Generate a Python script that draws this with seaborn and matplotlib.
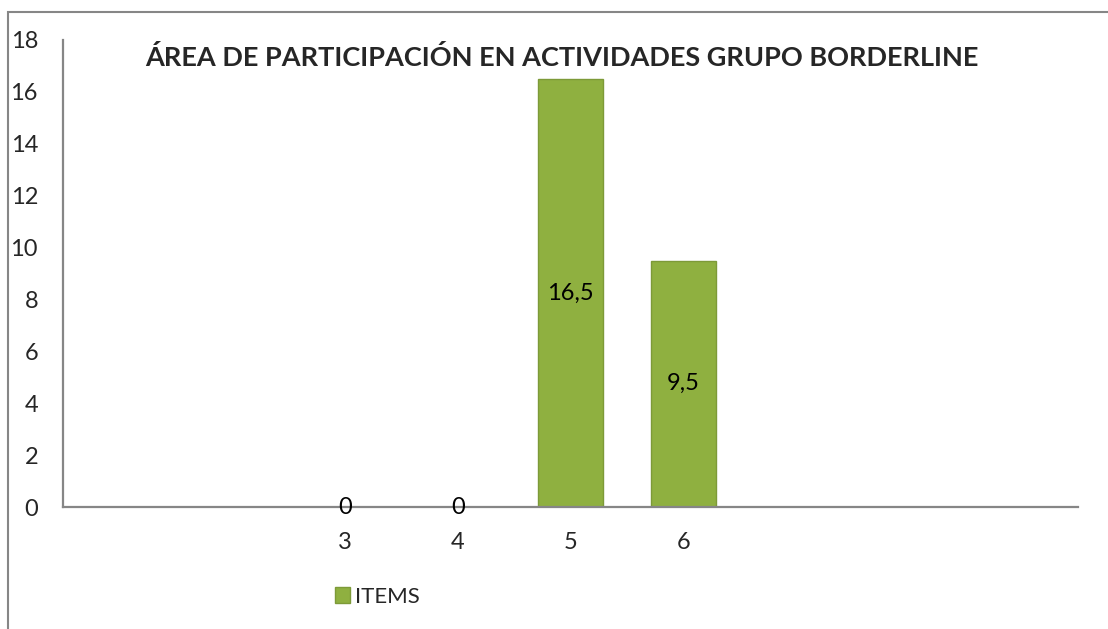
import numpy as np
import pandas as pd
import matplotlib
matplotlib.use("Agg")
import matplotlib.pyplot as plt
from matplotlib.patches import Rectangle
import seaborn as sns

# Data
slots = ["s1", "s2", "3", "4", "5", "6", "s7", "s8", "s9"]
tick_labels = ["", "", "3", "4", "5", "6", "", "", ""]
categories = ["3", "4", "5", "6"]
values = [0, 0, 16.5, 9.5]
value_labels = ["0", "0", "16,5", "9,5"]
series_name = "ITEMS"
title = "ÁREA DE PARTICIPACIÓN EN ACTIVIDADES GRUPO BORDERLINE"
yticks = [0, 2, 4, 6, 8, 10, 12, 14, 16, 18]

sns.set_style("white")
plt.rcParams["font.family"] = ["Lato", "DejaVu Sans"]

W, H = 1108, 629
fig = plt.figure(figsize=(W / 100, H / 100), dpi=100)
ax = fig.add_axes([63 / W, 1 - 507 / H, (1078 - 63) / W, (507 - 40) / H])

df = pd.DataFrame({"cat": categories, "val": values})
sns.barplot(data=df, x="cat", y="val", order=slots, color="#8fb040",
            width=0.58, ax=ax, edgecolor="#7d9a38", linewidth=1.0,
            saturation=1)

ax.set_xlim(-0.5, 8.5)
ax.set_ylim(0, 18)
ax.set_yticks(yticks)
ax.set_yticklabels([str(v) for v in yticks])
ax.set_xticks(range(len(slots)))
ax.set_xticklabels(tick_labels)
ax.set_xlabel("")
ax.set_ylabel("")
ax.tick_params(axis="y", length=0, pad=18, labelsize=17)
ax.tick_params(axis="x", length=0, pad=18, labelsize=17)

for s in ["top", "right"]:
    ax.spines[s].set_visible(False)
for s in ["left", "bottom"]:
    ax.spines[s].set_color("#868686")
    ax.spines[s].set_linewidth(1.6)

cont = ax.containers[0]
ax.bar_label(cont, labels=value_labels, label_type="center", fontsize=17,
             color="black")

fig.text(562 / W, 1 - 57 / H, title, ha="center", va="center",
         fontsize=19.5, fontweight="bold")

fig.legend(handles=[cont.patches[2]], labels=[series_name],
           loc="center", bbox_to_anchor=(377 / W, 1 - 597 / H),
           frameon=False, fontsize=16, handlelength=0.7, handleheight=0.7,
           handletextpad=0.2)

# outer chart frame
fig.patches.append(Rectangle((8 / W, -0.2), 1.2, 1 - 12 / H + 0.2,
                             transform=fig.transFigure, fill=False,
                             edgecolor="#868686", linewidth=1.5))

fig.savefig("out.png", dpi=100)
